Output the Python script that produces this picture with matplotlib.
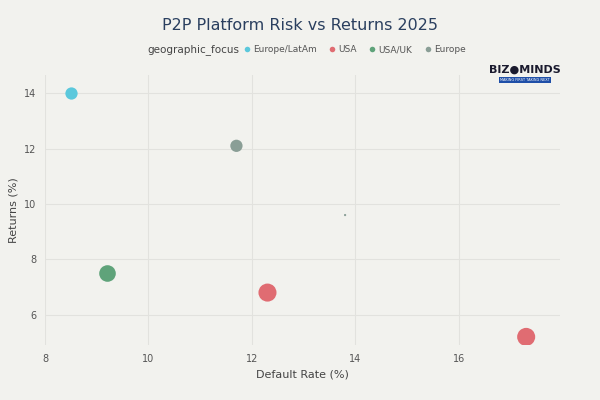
import matplotlib
matplotlib.use("Agg")
import matplotlib.pyplot as plt
from matplotlib.lines import Line2D

default_rate = [8.5, 11.7, 13.8, 9.2, 12.3, 17.3]
returns = [14.0, 12.1, 9.6, 7.5, 6.8, 5.2]
focus = ["Europe/LatAm", "Europe", "Europe", "USA/UK", "USA", "USA"]
size_val = [30, 30, 1, 55, 65, 65]
groups = ["Europe/LatAm", "USA", "USA/UK", "Europe"]
colors = {"Europe/LatAm": "#5bc8dc", "USA": "#e06c72", "USA/UK": "#5fa37a", "Europe": "#8a9e96"}
bg = "#f2f2ee"

fig = plt.figure(figsize=(6, 4), dpi=100, facecolor=bg)
ax = fig.add_axes([0.075, 0.137, 0.858, 0.675], facecolor=bg)
for g in groups:
    xs = [x for x, f in zip(default_rate, focus) if f == g]
    ys = [y for y, f in zip(returns, focus) if f == g]
    ss = [s * 2.6 for s, f in zip(size_val, focus) if f == g]
    ax.scatter(xs, ys, s=ss, c=colors[g], label=g, zorder=3, linewidths=0)
ax.set_xlim(8, 17.95)
ax.set_ylim(4.9, 14.65)
ax.set_xticks([8, 10, 12, 14, 16])
ax.set_yticks([6, 8, 10, 12, 14])
ax.grid(color="#e2e2de", linewidth=0.8)
for s in ax.spines.values():
    s.set_visible(False)
ax.tick_params(length=0, labelsize=7, colors="#555555", pad=6)
ax.set_xlabel("Default Rate (%)", fontsize=8, color="#444444")
ax.set_ylabel("Returns (%)", fontsize=8, color="#444444")
fig.suptitle("P2P Platform Risk vs Returns 2025", y=0.955, fontsize=11.5, color="#2a3f5f")
handles = [Line2D([], [], marker="o", linestyle="none", markersize=4, markerfacecolor=colors[g],
                  markeredgewidth=0) for g in groups]
fig.text(0.245, 0.875, "geographic_focus", fontsize=7.5, color="#444444", va="center")
leg = fig.legend(handles, groups, loc="center left", bbox_to_anchor=(0.39, 0.875), ncol=4, frameon=False,
                 fontsize=6.5, handletextpad=0.2, columnspacing=1.2, handlelength=1.0)
for t in leg.get_texts():
    t.set_color("#555555")
fig.text(0.875, 0.825, "BIZ\u25CFMINDS", fontsize=8, fontweight="bold", color="#1a1a2e", ha="center", va="center")
fig.text(0.875, 0.8, "MAKING FIRST TAKING NEXT", fontsize=2.5, color="white", ha="center", va="center",
         bbox=dict(facecolor="#1f4fa8", edgecolor="none", pad=1))
fig.savefig("out.png", facecolor=bg)
